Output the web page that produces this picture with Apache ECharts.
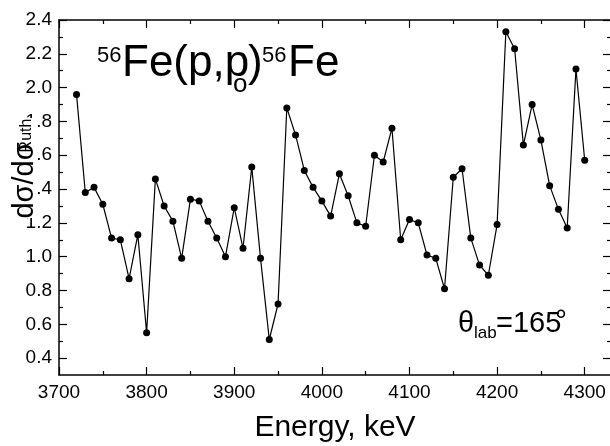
<!DOCTYPE html>
<html>
<head>
<meta charset="utf-8">
<script src="https://cdn.jsdelivr.net/npm/echarts@6/dist/echarts.min.js"></script>
<style>
html,body{margin:0;padding:0;background:#fff;}
#chart{width:610px;height:446px;}
</style>
</head>
<body>
<div id="chart"></div>
<script>
const energy = [3720,3730,3740,3750,3760,3770,3780,3790,3800,3810,3820,3830,3840,3850,3860,3870,3880,3890,3900,3910,3920,3930,3940,3950,3960,3970,3980,3990,4000,4010,4020,4030,4040,4050,4060,4070,4080,4090,4100,4110,4120,4130,4140,4150,4160,4170,4180,4190,4200,4210,4220,4230,4240,4250,4260,4270,4280,4290,4300];
const ratio = [1.96,1.38,1.41,1.31,1.11,1.10,0.87,1.13,0.55,1.46,1.30,1.21,0.99,1.34,1.33,1.21,1.11,1.00,1.29,1.05,1.53,0.99,0.51,0.72,1.88,1.72,1.51,1.41,1.33,1.24,1.49,1.36,1.20,1.18,1.60,1.56,1.76,1.10,1.22,1.20,1.01,0.99,0.81,1.47,1.52,1.11,0.95,0.89,1.19,2.33,2.23,1.66,1.90,1.69,1.42,1.28,1.17,2.11,1.57];
const xMajorTicks = [3700,3800,3900,4000,4100,4200,4300];
const xMinorTicks = [3750,3850,3950,4050,4150,4250];
const yMajorTicks = [0.4,0.6,0.8,1.0,1.2,1.4,1.6,1.8,2.0,2.2,2.4];
const yMinorTicks = [0.5,0.7,0.9,1.1,1.3,1.5,1.7,1.9,2.1,2.3];

const FONT = "'Liberation Sans', Arial, sans-serif";
const X_MIN = 3700, X_MAX = 4330, Y_MIN = 0.3, Y_MAX = 2.4;

function xAx(pos, ticks, len, showLine, showLabel, name) {
  return {
    type: 'value', position: pos, min: X_MIN, max: X_MAX,
    axisLine: {show: showLine, onZero: false, lineStyle: {color: '#000', width: 1.5}},
    axisTick: {show: true, inside: true, length: len, customValues: ticks, lineStyle: {color: '#000', width: 1.2}},
    axisLabel: {show: showLabel, customValues: ticks, color: '#000', fontSize: 19, fontFamily: FONT, margin: 8,
      formatter: v => String(v)},
    splitLine: {show: false},
    name: name || '', nameLocation: 'middle', nameGap: 38,
    nameTextStyle: {color: '#000', fontSize: 30, fontFamily: FONT}
  };
}
function yAx(pos, ticks, len, showLine, showLabel) {
  return {
    type: 'value', position: pos, min: Y_MIN, max: Y_MAX,
    axisLine: {show: showLine, onZero: false, lineStyle: {color: '#000', width: 1.5}},
    axisTick: {show: true, inside: true, length: len, customValues: ticks, lineStyle: {color: '#000', width: 1.2}},
    axisLabel: {show: showLabel, customValues: ticks, color: '#000', fontSize: 19, fontFamily: FONT, margin: 7,
      formatter: v => v.toFixed(1)},
    splitLine: {show: false}
  };
}

const chart = echarts.init(document.getElementById('chart'), null, {renderer: 'canvas'});
const txt = (text, x, y, size, extra, rot) => ({
  type: 'text', x: x, y: y, z: 100, rotation: rot || 0,
  style: Object.assign({text: text, fill: '#000', fontSize: size, fontFamily: FONT, align: 'left', verticalAlign: 'middle'}, extra || {})
});
chart.setOption({
  animation: false,
  backgroundColor: '#fff',
  grid: {left: 59, top: 20, right: -1, bottom: 71, outerBoundsMode: 'none', containLabel: false},
  xAxis: [
    xAx('bottom', xMajorTicks, 8, true, true, 'Energy, keV'),
    xAx('bottom', xMinorTicks, 4, false, false),
    xAx('top', xMajorTicks, 8, true, false),
    xAx('top', xMinorTicks, 4, false, false)
  ],
  yAxis: [
    yAx('left', yMajorTicks, 8, true, true),
    yAx('left', yMinorTicks, 4, false, false),
    yAx('right', yMajorTicks, 8, true, false),
    yAx('right', yMinorTicks, 4, false, false)
  ],
  series: [{
    type: 'line',
    xAxisIndex: 0, yAxisIndex: 0,
    data: energy.map((e, i) => [e, ratio[i]]),
    symbol: 'circle', symbolSize: 7,
    lineStyle: {color: '#000', width: 1.2},
    itemStyle: {color: '#000'},
    clip: false
  }],
  graphic: [
    {type: 'rect', z: 99, shape: {x: 12, y: 118, width: 24, height: 100}, style: {fill: '#fff'}},
    txt('dσ/dσ', 25, 180.5, 29, {align: 'center'}, Math.PI / 2),
    txt('Ruth', 27, 135.5, 16, {align: 'center'}, Math.PI / 2),
    txt('56', 97, 56, 22),
    txt('Fe(p,p', 122, 64, 44),
    txt('o', 233, 85, 26),
    txt(')', 248, 64, 44),
    txt('56', 262, 56, 22),
    txt('Fe', 288, 64, 44),
    txt('θ', 458, 324, 29),
    txt('lab', 474, 333, 17),
    txt('=165', 496, 324, 29),
    txt('°', 555, 322, 30)
  ]
});
</script>
</body>
</html>
